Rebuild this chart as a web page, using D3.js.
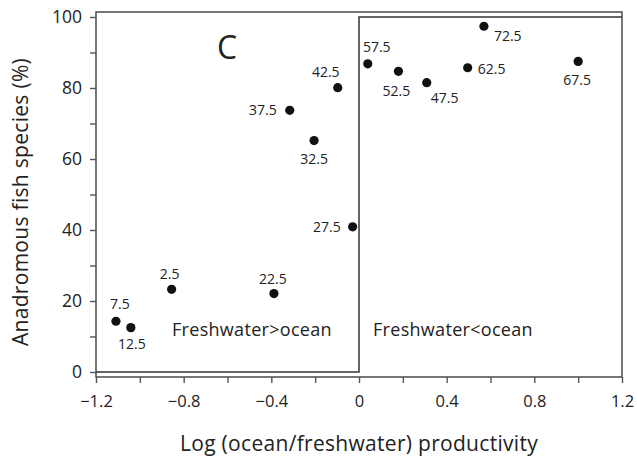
<!DOCTYPE html>
<html><head><meta charset="utf-8">
<script src="https://cdn.jsdelivr.net/npm/d3@7"></script>
<style>
body{margin:0;background:#fff;}
svg text{font-family:"Open Sans",sans-serif;fill:#222;}
</style></head>
<body><svg id="c" width="637" height="458"></svg>
<script>
// Data
const labels = ["7.5","12.5","2.5","22.5","37.5","32.5","42.5","27.5","57.5","52.5","47.5","62.5","72.5","67.5"];
const logRatio = [-1.109,-1.041,-0.855,-0.388,-0.316,-0.205,-0.097,-0.029,0.040,0.180,0.309,0.496,0.570,1.000];
const anadromous = [14.3,12.5,23.3,22.1,73.7,65.2,80.1,40.9,86.8,84.7,81.5,85.7,97.4,87.5];
const xTickLabels = [-1.2,-0.8,-0.4,0,0.4,0.8,1.2];
const yTickLabels = [0,20,40,60,80,100];
const boundaryX = [-1.2,0,0,1.2];
const boundaryY = [0,0,100,100];

// label placement (layout only)
const labelPos = {
 "7.5":[4,-12,"middle"],"12.5":[1,21,"middle"],"2.5":[-2,-10,"middle"],"22.5":[-1,-10,"middle"],
 "37.5":[-13,5,"end"],"32.5":[0,23,"middle"],"42.5":[-12,-11,"middle"],"27.5":[-12,5,"end"],
 "57.5":[9,-12,"middle"],"52.5":[-2,25,"middle"],"47.5":[18,20,"middle"],"62.5":[10,6,"start"],
 "72.5":[10,15,"start"],"67.5":[-1,24,"middle"]
};

const svg = d3.select("#c");
const x = d3.scaleLinear().domain([-1.2,1.2]).range([96,622]);
const y = d3.scaleLinear().domain([0,100]).range([372,17]);
const frameTop = 12, frameBottom = 377;
const frameColor = "#555";

// frame
svg.append("rect").attr("x",96).attr("y",frameTop).attr("width",622-96).attr("height",frameBottom-frameTop)
  .attr("fill","none").attr("stroke",frameColor).attr("stroke-width",1.6);

// x axis
const xAxis = d3.axisBottom(x).tickValues(d3.range(-1.2,1.201,0.2).map(v=>+v.toFixed(1)))
  .tickSize(6).tickFormat(d=> xTickLabels.some(t=>Math.abs(t-d)<1e-9) ? (d===0?"0":d3.format(".1f")(d).replace("-","\u2212")) : "");
const gx = svg.append("g").attr("transform",`translate(0,${frameBottom})`).call(xAxis);
gx.select(".domain").remove();
gx.selectAll("line").attr("stroke",frameColor).attr("stroke-width",1.4);
gx.selectAll("text").attr("font-size",16.5).attr("y",30).attr("dy",null).attr("fill","#222");

// y axis
const yAxis = d3.axisLeft(y).tickValues(d3.range(0,101,10)).tickSize(6)
  .tickFormat(d=> yTickLabels.includes(d) ? d : "");
const gy = svg.append("g").attr("transform","translate(96,0)").call(yAxis);
gy.select(".domain").remove();
gy.selectAll("line").attr("stroke",frameColor).attr("stroke-width",1.4);
gy.selectAll("text").attr("font-size",17.5).attr("x",-14).attr("fill","#222");

// boundary step line
const line = d3.line().x(d=>x(d[0])).y(d=>y(d[1]));
svg.append("path").datum(boundaryX.map((v,i)=>[v,boundaryY[i]]))
  .attr("d",line).attr("fill","none").attr("stroke","#333").attr("stroke-width",1.5);

// points
const data = labels.map((l,i)=>({l, x:logRatio[i], y:anadromous[i]}));
svg.selectAll("circle.pt").data(data).join("circle").attr("class","pt")
  .attr("cx",d=>x(d.x)).attr("cy",d=>y(d.y)).attr("r",4.6).attr("fill","#111");
svg.selectAll("text.lab").data(data).join("text").attr("class","lab")
  .attr("x",d=>x(d.x)+labelPos[d.l][0]).attr("y",d=>y(d.y)+labelPos[d.l][1])
  .attr("text-anchor",d=>labelPos[d.l][2]).attr("font-size",14).text(d=>d.l);

// annotations
svg.append("text").attr("x",217).attr("y",59).attr("font-size",32).text("C");
svg.append("text").attr("x",172).attr("y",336).attr("font-size",18).attr("letter-spacing",0.3).text("Freshwater>ocean");
svg.append("text").attr("x",373).attr("y",336).attr("font-size",18).attr("letter-spacing",0.3).text("Freshwater<ocean");

// axis titles
svg.append("text").attr("x",359).attr("y",451).attr("text-anchor","middle").attr("font-size",21)
  .attr("letter-spacing",0.3).text("Log (ocean/freshwater) productivity");
svg.append("text").attr("transform","translate(28,202) rotate(-90)").attr("text-anchor","middle")
  .attr("font-size",21).attr("letter-spacing",0.3).text("Anadromous fish species (%)");
</script></body></html>
